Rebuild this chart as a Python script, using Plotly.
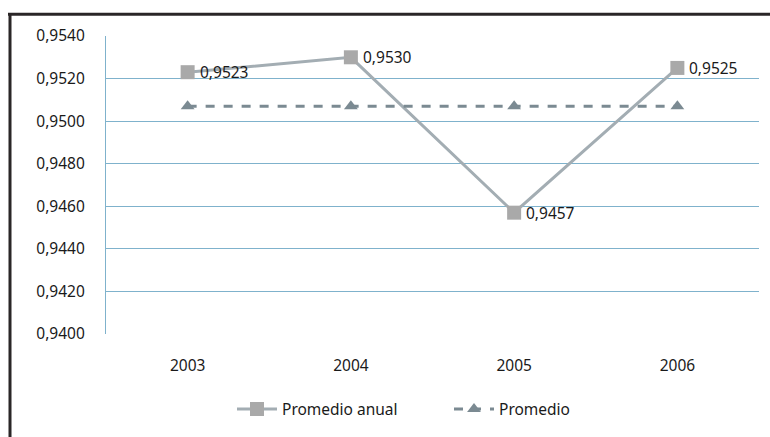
import plotly.graph_objects as go

# Data
years = ["2003", "2004", "2005", "2006"]
promedio_anual = [0.9523, 0.9530, 0.9457, 0.9525]
promedio = [0.9507, 0.9507, 0.9507, 0.9507]
y_ticks = [0.9400, 0.9420, 0.9440, 0.9460, 0.9480, 0.9500, 0.9520, 0.9540]

W, H = 770, 437
ML, MR, MT, MB = 106, 11, 36, 101
FONT = "Noto Sans"
FS = 15.5

fig = go.Figure()

fig.add_trace(go.Scatter(
    x=years, y=promedio_anual, name="Promedio anual",
    mode="lines+markers",
    line=dict(color="#a3adb3", width=3),
    marker=dict(symbol="square", size=14, color="#a9a9a9"),
    legend="legend",
))

fig.add_trace(go.Scatter(
    x=years, y=promedio, name="Promedio",
    mode="lines+markers",
    line=dict(color="#7b8a92", width=3, dash="dash"),
    marker=dict(symbol="triangle-up", size=12, color="#7b8a92"),
    legend="legend2",
))

# Value labels to the right of each yearly point (category index on x)
for i, v in enumerate(promedio_anual):
    fig.add_annotation(x=i, y=v, xref="x", yref="y",
                       text=f"{v:.4f}".replace(".", ","),
                       showarrow=False, xanchor="left", yanchor="middle",
                       xshift=10,
                       font=dict(family=FONT, size=FS, color="#1a1a1a"))

# Dark frame around the chart (top and left edges visible)
px = lambda v: (v - ML) / (W - ML - MR)
py = lambda v: (H - MB - v) / (H - MT - MB)
fig.add_shape(type="line", xref="paper", yref="paper",
              x0=px(8), x1=px(775), y0=py(14), y1=py(14),
              line=dict(color="#2a2627", width=3))
fig.add_shape(type="line", xref="paper", yref="paper",
              x0=px(10), x1=px(10), y0=py(13), y1=py(440),
              line=dict(color="#2a2627", width=3))

legend_font = dict(family=FONT, size=FS, color="#1a1a1a")
fig.update_layout(
    width=W, height=H,
    margin=dict(l=ML, r=MR, t=MT, b=MB),
    paper_bgcolor="white", plot_bgcolor="white",
    separators=",.",
    font=dict(family=FONT, size=FS, color="#1a1a1a"),
    showlegend=True,
    legend=dict(x=px(232), xanchor="left", y=py(412), yanchor="middle",
                font=legend_font, itemwidth=40, bgcolor="rgba(0,0,0,0)"),
    legend2=dict(x=px(449), xanchor="left", y=py(412), yanchor="middle",
                 font=legend_font, itemwidth=40, bgcolor="rgba(0,0,0,0)"),
    xaxis=dict(type="category", range=[-0.5, 3.5], showgrid=False,
               showline=False, zeroline=False, ticks="",
               ticklabelstandoff=20,
               tickfont=dict(family=FONT, size=FS)),
    yaxis=dict(range=[0.9400, 0.9540], tickvals=y_ticks, tickformat=".4f",
               showgrid=True, gridcolor="#7fb2cc", gridwidth=1.3,
               showline=True, linecolor="#7fb2cc", linewidth=1.3,
               zeroline=False, ticks="", ticklabelstandoff=17,
               tickfont=dict(family=FONT, size=FS)),
)

fig.write_html("out.html")
